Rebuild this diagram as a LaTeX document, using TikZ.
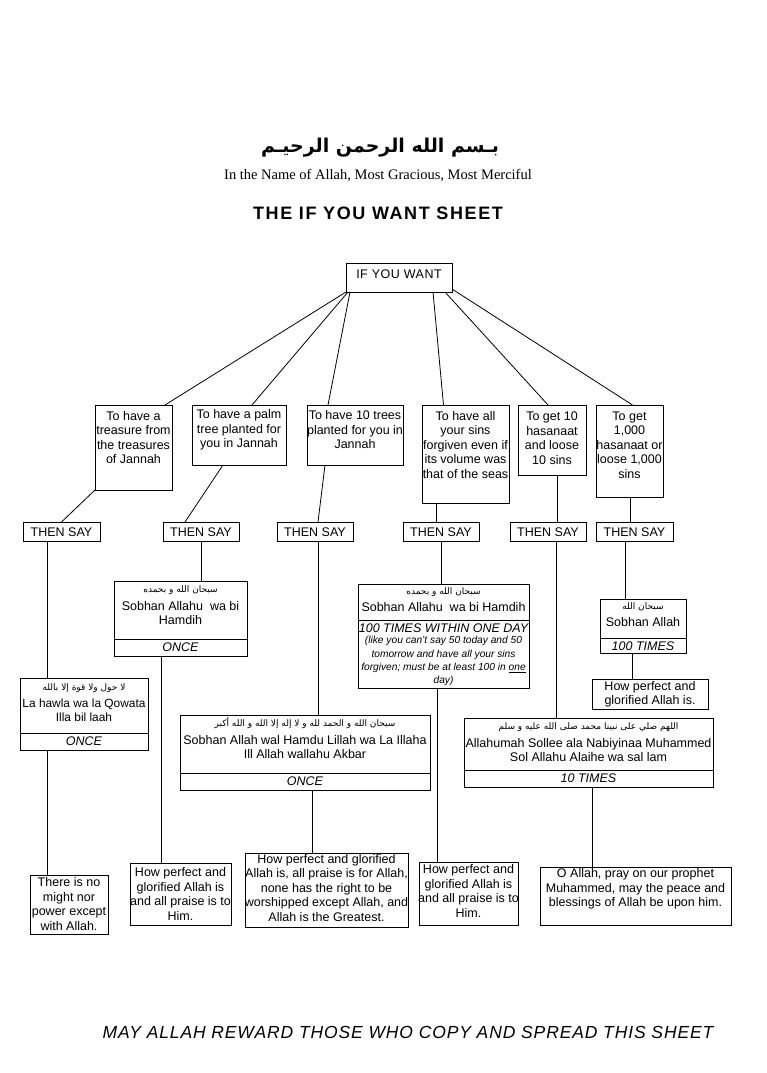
\documentclass[tikz,border=0pt]{standalone}
\usepackage{fontspec}
\setmainfont{Liberation Sans}
\newfontfamily\arabicfont[Script=Arabic]{DejaVu Sans}
\newfontfamily\serifont{Liberation Serif}
\TeXXeTstate=1
\usetikzlibrary{calc}
\newcommand\myar[1]{{\arabicfont\fontsize{9}{11}\selectfont\beginR #1\endR}}
\newcommand\mybox[5]{\node[rect, minimum width={#4-#2}, minimum height={#5-#3}] (#1) at ({(#2+#4)/2},{(#3+#5)/2}) {};}
\newcommand\mydiv[2]{\draw (#1.west |- 0,#2) -- (#1.east |- 0,#2);}
\begin{document}
\begin{tikzpicture}[x=1pt,y=-1pt,line width=0.8pt,
  rect/.style={draw, inner sep=0pt, outer sep=0pt, line width=0.8pt},
  txt/.style={inner sep=0pt, align=center, font=\fontsize{12.5}{14.5}\selectfont},
  itx/.style={inner sep=0pt, align=center, font=\fontsize{12.5}{14.5}\selectfont\itshape},
  smit/.style={inner sep=0pt, align=center, font=\fontsize{10.2}{13.2}\selectfont\itshape},
  artx/.style={inner sep=0pt}]
\useasboundingbox (0,0) rectangle (767,1073);
\fill[white] (0,0) rectangle (767,1073);

% titles
\node[inner sep=0pt, font=\arabicfont\bfseries\fontsize{19}{22}\selectfont] (t1) at (380,148) {\beginR بـسم الله الرحمن الرحيـم\endR};
\node[inner sep=0pt, font=\serifont\fontsize{14.5}{16}\selectfont] (t2) at (378,176) {In the Name of Allah, Most Gracious, Most Merciful};
\node[inner sep=0pt, font=\bfseries\fontsize{18}{20}\selectfont\addfontfeature{LetterSpace=9}] (t3) at (378,213) {THE IF YOU WANT SHEET};
\node[inner sep=0pt, font=\itshape\fontsize{17.5}{19}\selectfont\addfontfeature{LetterSpace=5}] (ft) at (408,1032) {MAY ALLAH REWARD THOSE WHO COPY AND SPREAD THIS SHEET};

% root
\mybox{ify}{346}{263}{452}{292}
\node[txt, font=\fontsize{12.5}{14.5}\selectfont\addfontfeature{LetterSpace=4}] (ifyt) at (ify.north |- 0,274) {IF YOU WANT};

% first row
\mybox{b1}{95}{405}{172}{490}
\mybox{b2}{192}{405}{286}{465}
\mybox{b3}{307}{405}{403}{465}
\mybox{b4}{422}{405}{509}{503}
\mybox{b5}{518}{405}{586}{475}
\mybox{b6}{596}{405}{663}{497}
\node[txt] (b1t) at (b1.north |- 0,437.5) {To have a\\treasure from\\the treasures\\of Jannah};
\node[txt] (b2t) at (b2.north |- 0,430) {To have a palm\\tree planted for\\you in Jannah};
\node[txt] (b3t) at (b3.north |- 0,430) {To have 10 trees\\planted for you in\\Jannah};
\node[txt] (b4t) at (b4.north |- 0,445) {To have all\\your sins\\forgiven even if\\its volume was\\that of the seas};
\node[txt] (b5t) at (b5.north |- 0,438) {To get 10\\hasanaat\\and loose\\10 sins};
\node[txt] (b6t) at (b6.north |- 0,445) {To get\\1,000\\hasanaat or\\loose 1,000\\sins};

% THEN SAY row
\mybox{ts1}{23}{522}{100}{541}
\mybox{ts2}{163}{522}{239}{541}
\mybox{ts3}{277}{522}{353}{541}
\mybox{ts4}{403}{522}{479}{541}
\mybox{ts5}{510}{522}{586}{541}
\mybox{ts6}{596}{522}{673}{541}
\foreach \n in {ts1,ts2,ts3,ts4,ts5,ts6}{\node[txt] at ([yshift=-0.5pt]\n.center) {THEN SAY};}

% dhikr boxes
\mybox{lh}{20}{678}{148}{750}
\mydiv{lh}{733}
\node[artx] (lha) at (lh.north |- 0,688) {\myar{لا حول ولا قوة إلا بالله}};
\node[txt, font=\fontsize{11.9}{14.5}\selectfont] (lht) at (lh.north |- 0,710) {La hawla wa la Qowata\\Illa bil laah};
\node[itx] (lho) at (lh.north |- 0,741.5) {ONCE};

\mybox{s2}{114}{581}{247}{656}
\mydiv{s2}{639}
\node[artx] (s2a) at (s2.north |- 0,590) {\myar{سبحان الله و بحمده}};
\node[txt] (s2t) at (s2.north |- 0,613) {Sobhan Allahu\ \ wa bi\\Hamdih};
\node[itx] (s2o) at (s2.north |- 0,647.5) {ONCE};

\mybox{bg}{180}{715}{430}{790}
\mydiv{bg}{773}
\node[artx] (bga) at (bg.north |- 0,723) {\myar{سبحان الله و الحمد لله و لا إله إلا الله و الله أكبر}};
\node[txt] (bgt) at (bg.north |- 0,747) {Sobhan Allah wal Hamdu Lillah wa La Illaha\\Ill Allah wallahu Akbar};
\node[itx] (bgo) at (bg.north |- 0,781.5) {ONCE};

\mybox{s4}{358}{584}{529}{688}
\mydiv{s4}{620}
\node[artx] (s4a) at (s4.north |- 0,592) {\myar{سبحان الله و بحمده}};
\node[txt] (s4t) at (s4.north |- 0,607.5) {Sobhan Allahu\ \ wa bi Hamdih};
\node[itx] (s4o) at (s4.north |- 0,628.5) {100 TIMES WITHIN ONE DAY};
\node[smit] (s4p) at (s4.north |- 0,661) {(like you can't say 50 today and 50\\tomorrow and have all your sins\\forgiven; must be at least 100 in \underline{one}\\day)};

\mybox{tt}{464}{718}{713}{787}
\mydiv{tt}{770}
\node[artx] (tta) at (tt.north |- 0,727) {\myar{اللهم صلي على نبينا محمد صلى الله عليه و سلم}};
\node[txt] (ttt) at (tt.north |- 0,750) {Allahumah Sollee ala Nabiyinaa Muhammed\\Sol Allahu Alaihe wa sal lam};
\node[itx] (tto) at (tt.north |- 0,778.5) {10 TIMES};

\mybox{s6}{600}{599}{686}{653}
\mydiv{s6}{638}
\node[artx] (s6a) at (s6.north |- 0,607) {\myar{سبحان الله}};
\node[txt] (s6t) at (s6.north |- 0,622.5) {Sobhan Allah};
\node[itx] (s6o) at (s6.north |- 0,646) {100 TIMES};

% meaning boxes
\mybox{tn}{30}{875}{108}{934}
\node[txt] (tnt) at (tn.north |- 0,904) {There is no\\might nor\\power except\\with Allah.};
\mybox{h2}{130}{863}{231}{925}
\node[txt] (h2t) at (h2.north |- 0,894) {How perfect and\\glorified Allah is\\and all praise is to\\Him.};
\mybox{lg}{245}{853}{408}{927}
\node[txt] (lgt) at (lg.north |- 0,888) {How perfect and glorified\\Allah is, all praise is for Allah,\\none has the right to be\\worshipped except Allah, and\\Allah is the Greatest.};
\mybox{h4}{419}{862}{518}{925}
\node[txt] (h4t) at (h4.north |- 0,891) {How perfect and\\glorified Allah is\\and all praise is to\\Him.};
\mybox{oa}{540}{867}{731}{925}
\node[txt] (oat) at (oa.north |- 0,889) {O Allah, pray on our prophet\\Muhammed, may the peace and\\blessings of Allah be upon him.};
\mybox{h6}{592}{679}{708}{709}
\node[txt] (h6t) at ([yshift=-0.5pt]h6.center) {How perfect and\\glorified Allah is.};

% connectors root -> first row
\draw (ify.south west) -- ([xshift=-7pt]b1.north east);
\draw ([xshift=2pt]ify.south west) -- ([xshift=13pt]b2.north);
\draw ([xshift=4pt]ify.south west) -- ([xshift=-27pt]b3.north);
\draw ([xshift=-19pt]ify.south east) -- ([xshift=-22pt]b4.north);
\draw ([xshift=-7pt]ify.south east) -- ([xshift=-4pt]b5.north);
\draw ([yshift=3pt]ify.south east) -- ([xshift=3pt]b6.north);

% first row -> THEN SAY
\draw (b1.south west) -- (ts1.north);
\draw ([xshift=-16pt]b2.south) -- ([xshift=-16pt]ts2.north);
\draw ([xshift=-30pt]b3.south) -- ([xshift=3pt]ts3.north);
\draw (b4.south -| 436,0) -- (ts4.north -| 436,0);
\draw (b5.south -| 557,0) -- (ts5.north -| 557,0);
\draw (b6.south -| 630,0) -- (ts6.north -| 630,0);

% THEN SAY -> dhikr -> meaning
\draw (ts1.south -| 47,0) -- (lh.north -| 47,0);
\draw (lh.south -| 47,0) -- (tn.north -| 47,0);
\draw (ts2.south) -- (s2.north -| ts2.south);
\draw (s2.south -| 161,0) -- (h2.north -| 161,0);
\draw (ts3.south -| 318,0) -- (bg.north -| 318,0);
\draw (bg.south -| 312,0) -- (lg.north -| 312,0);
\draw (ts4.south -| 441,0) -- (s4.north -| 441,0);
\draw (s4.south -| 437,0) -- (h4.north -| 437,0);
\draw (ts5.south -| 556,0) -- (tt.north -| 556,0);
\draw (tt.south -| 592,0) -- (oa.north -| 592,0);
\draw (ts6.south -| 625,0) -- (s6.north -| 625,0);
\draw (s6.south -| 632,0) -- (h6.north -| 632,0);
\end{tikzpicture}
\end{document}
